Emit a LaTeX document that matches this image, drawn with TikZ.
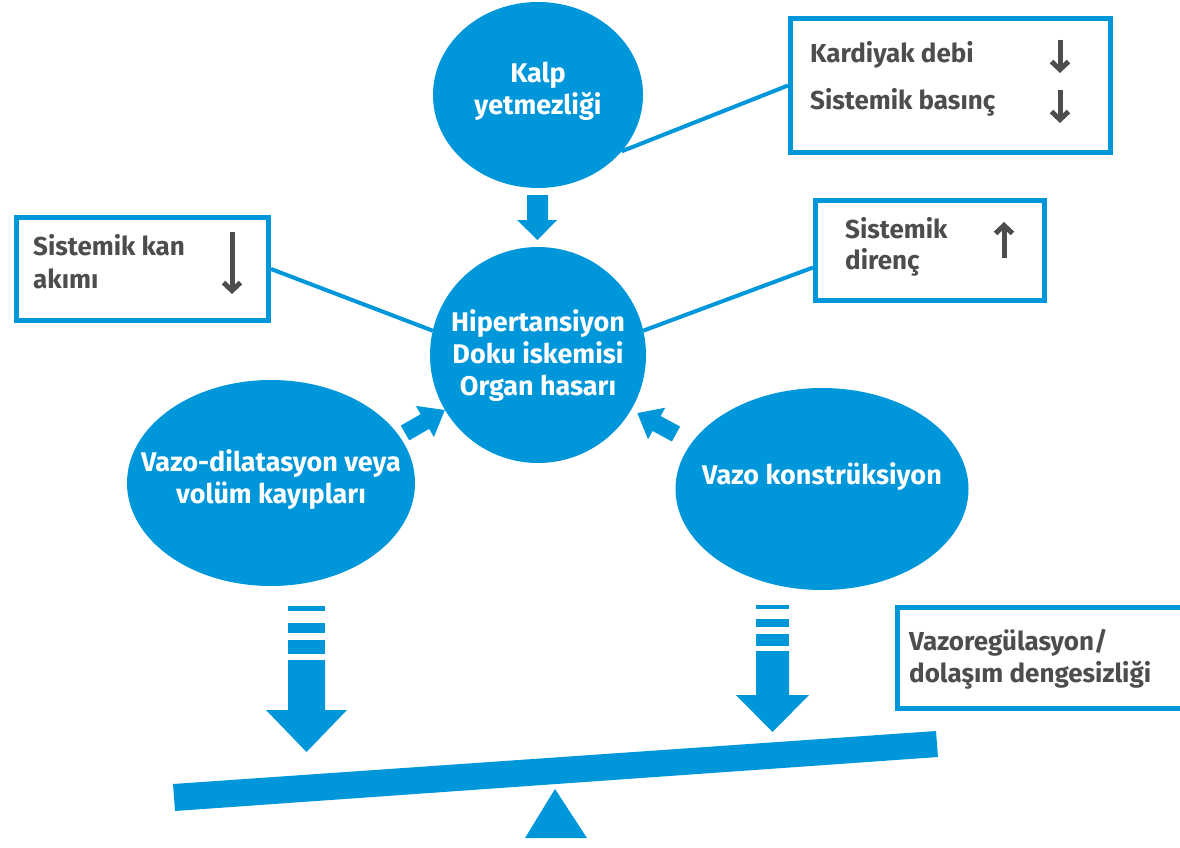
\documentclass[tikz,border=0pt]{standalone}
\usepackage{fontspec}
\setmainfont{Fira Sans}
\usetikzlibrary{shapes.geometric,arrows.meta}
\definecolor{myblue}{RGB}{0,150,218}
\definecolor{txtgray}{RGB}{77,77,77}
\begin{document}
\begin{tikzpicture}[x=1pt,y=-1pt,
 bubble/.style={ellipse,fill=myblue,inner sep=0pt,outer sep=0pt},
 bubbletext/.style={text=white,inner sep=0pt,font=\bfseries\fontsize{27}{32}\selectfont,align=center},
 infobox/.style={draw=myblue,line width=5pt,fill=white,inner sep=0pt,anchor=north west},
 boxtext/.style={text=txtgray,font=\bfseries\fontsize{26}{32}\selectfont,anchor=base west,inner sep=0pt},
 link/.style={draw=myblue,line width=4pt},
 trend/.style={draw=txtgray,line width=5pt,-{Straight Barb[length=8pt,width=17pt]}},
 blockarrow/.style={fill=myblue}]
\useasboundingbox (0,0) rectangle (1180,848);

% bubbles
\node[bubble,minimum width=210pt,minimum height=186pt] (kalp) at (538,95) {};
\node[bubble,minimum width=216pt,minimum height=216pt] (hyp) at (538,355) {};
\node[bubble,minimum width=288pt,minimum height=206pt] (vdil) at (271,483) {};
\node[bubble,minimum width=293pt,minimum height=202pt] (vkon) at (822,489) {};
\node[bubbletext] (kalpt) at ([yshift=4pt]kalp.center) {Kalp\\yetmezliği};
\node[bubbletext] (hypt) at ([yshift=-1pt]hyp.center) {Hipertansiyon\\Doku iskemisi\\Organ hasarı};
\node[bubbletext] (vdilt) at ([yshift=3pt]vdil.center) {Vazo-dilatasyon veya\\volüm kayıpları};
\node[bubbletext] (vkont) at ([yshift=12pt]vkon.center) {Vazo konstrüksiyon};

% boxes
\node[infobox,minimum width=320pt,minimum height=134pt] (b1) at (788,16) {};
\node[infobox,minimum width=252pt,minimum height=103pt] (b2) at (14,215) {};
\node[infobox,minimum width=229pt,minimum height=100pt] (b3) at (813,198) {};
\node[infobox,minimum width=290pt,minimum height=101pt] (b4) at (895,605) {};

% connectors
\draw[link] (b1.west) -- (kalp.-34);
\draw[link] (b2.east) -- (hyp.167);
\draw[link] ([yshift=-17pt]b3.west) -- (hyp.13);

% box texts
\node[boxtext] (t1) at (810,63) {Kardiyak debi};
\node[boxtext] (t2) at (810,110) {Sistemik basınç};
\node[boxtext] (t3a) at (33,255) {Sistemik kan};
\node[boxtext] (t3b) at (33,288) {akımı};
\node[boxtext] (t4a) at (845,238) {Sistemik};
\node[boxtext] (t4b) at (845,269) {direnç};
\node[boxtext] (t5a) at (909,650) {Vazoregülasyon/};
\node[boxtext] (t5b) at (909,682) {dolaşım dengesizliği};

% trend arrows
\coordinate (a1s) at (1060,40); \coordinate (a1e) at (1060,73);
\coordinate (a2s) at (1060,90); \coordinate (a2e) at (1060,123);
\coordinate (a3s) at (232,232); \coordinate (a3e) at (232,294);
\coordinate (a4s) at (1004,258); \coordinate (a4e) at (1004,222);
\draw[trend] (a1s) -- (a1e);
\draw[trend] (a2s) -- (a2e);
\draw[trend] (a3s) -- (a3e);
\draw[trend] (a4s) -- (a4e);

% block arrow kalp -> hyp
\fill[blockarrow] (527,195) -- (548,195) -- (548,220) -- (557,220) -- (537.5,240) -- (517,220) -- (527,220) -- cycle;

% diagonal arrows
\fill[blockarrow,shift={(405,433)},rotate=30]
  (0,-8.5) -- (23,-8.5) -- (23,-18) -- (46,0) -- (23,18) -- (23,8.5) -- (0,8.5) -- cycle;
\fill[blockarrow,shift={(676,434)},rotate=151.6]
  (0,-8.5) -- (22,-8.5) -- (22,-18) -- (44,0) -- (22,18) -- (22,8.5) -- (0,8.5) -- cycle;

% striped arrows (left)
\fill[blockarrow] (288,606) rectangle (325,611);
\fill[blockarrow] (288,623) rectangle (325,633);
\fill[blockarrow] (288,640) rectangle (325,654);
\fill[blockarrow] (288,660) -- (325,660) -- (325,710) -- (347,710) -- (306.5,752) -- (266,710) -- (288,710) -- cycle;
% striped arrows (right)
\fill[blockarrow] (756,605) rectangle (789,609);
\fill[blockarrow] (756,619) rectangle (789,627);
\fill[blockarrow] (756,634) rectangle (789,646);
\fill[blockarrow] (756,651) -- (789,651) -- (789,695) -- (809,695) -- (772.5,732) -- (736,695) -- (756,695) -- cycle;

% seesaw
\fill[blockarrow] (173,784) -- (175,811) -- (938,757) -- (936,731) -- cycle;
\fill[blockarrow] (555,789) -- (587,838) -- (525,838) -- cycle;
\end{tikzpicture}
\end{document}
